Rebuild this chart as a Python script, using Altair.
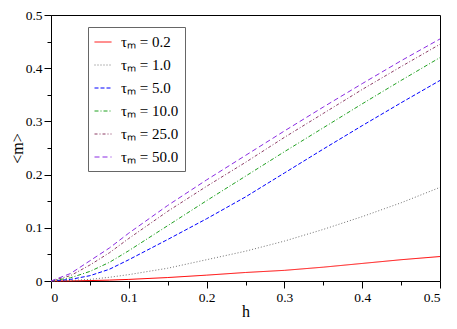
import altair as alt
import pandas as pd

h = [0.0, 0.025, 0.05, 0.075, 0.1, 0.15, 0.2, 0.25, 0.3, 0.35, 0.4, 0.45, 0.5]
m_02 = [0.0, 0.0002, 0.0008, 0.0017, 0.003, 0.0065, 0.011, 0.016, 0.020, 0.026, 0.033, 0.040, 0.046]
m_1 = [0.0, 0.001, 0.003, 0.007, 0.012, 0.024, 0.040, 0.056, 0.075, 0.097, 0.121, 0.147, 0.176]
m_5 = [0.0, 0.003, 0.010, 0.022, 0.040, 0.078, 0.117, 0.158, 0.203, 0.248, 0.292, 0.335, 0.377]
m_10 = [0.0, 0.006, 0.018, 0.035, 0.057, 0.104, 0.151, 0.197, 0.243, 0.288, 0.333, 0.377, 0.420]
m_25 = [0.0, 0.010, 0.030, 0.053, 0.080, 0.131, 0.178, 0.223, 0.270, 0.315, 0.360, 0.403, 0.445]
m_50 = [0.0, 0.014, 0.038, 0.062, 0.090, 0.142, 0.190, 0.236, 0.282, 0.327, 0.371, 0.414, 0.455]

labels = ["τₘ = 0.2", "τₘ = 1.0", "τₘ = 5.0", "τₘ = 10.0", "τₘ = 25.0", "τₘ = 50.0"]
series = [m_02, m_1, m_5, m_10, m_25, m_50]
colors = ["#ff0000", "#707070", "#0000ff", "#1fa01f", "#8c3c64", "#8a2be2"]
dashes = [[1, 0], [1, 2], [4, 2], [4, 2, 1, 2], [3, 2, 1, 2], [5, 3]]

rows = []
for lab, vals in zip(labels, series):
    for hv, mv in zip(h, vals):
        rows.append({"h": hv, "m": mv, "tau": lab})
df = pd.DataFrame(rows)

SERIF = "Times New Roman, Liberation Serif, serif"
minor_test = "abs(round(datum.value*20)) % 2 == 1"
ticks = [i * 0.05 for i in range(11)]

def make_axis(title, **kw):
    return alt.Axis(
        title=title,
        values=ticks,
        format=".1~f",
        labelExpr=f"{minor_test} ? '' : datum.label",
        tickSize={"condition": {"test": minor_test, "value": 4}, "value": 7},
        grid=False,
        domainColor="black",
        tickColor="black",
        labelColor="black",
        labelFont=SERIF,
        labelFontSize=13.5,
        titleFont=SERIF,
        titleFontSize=16,
        titleFontWeight="normal",
        titleColor="black",
        **kw,
    )

legend = alt.Legend(
    orient="none",
    legendX=37,
    legendY=12,
    title=None,
    strokeColor="#666666",
    fillColor="white",
    padding=6,
    symbolType="stroke",
    symbolSize=289,
    symbolStrokeWidth=1,
    labelFont=SERIF,
    labelFontSize=15,
    labelColor="black",
    labelOffset=9,
    rowPadding=6,
)

chart = (
    alt.Chart(df)
    .mark_line(strokeWidth=1)
    .encode(
        x=alt.X("h:Q", scale=alt.Scale(domain=[0, 0.5], nice=False),
                axis=make_axis("h", labelPadding=2, titlePadding=0)),
        y=alt.Y("m:Q", scale=alt.Scale(domain=[0, 0.5], nice=False),
                axis=make_axis("<m>", labelPadding=2, titlePadding=0)),
        color=alt.Color("tau:N", sort=labels,
                        scale=alt.Scale(domain=labels, range=colors), legend=legend),
        strokeDash=alt.StrokeDash("tau:N", sort=labels,
                                  scale=alt.Scale(domain=labels, range=dashes), legend=legend),
    )
    .properties(
        width=389,
        height=266,
        padding={"left": 43, "top": 7, "right": 9, "bottom": 39},
        autosize=alt.AutoSizeParams(type="none"),
    )
    .configure_view(stroke="black", strokeWidth=1)
)

chart.save("out.html", embed_options={"renderer": "svg", "actions": False})
